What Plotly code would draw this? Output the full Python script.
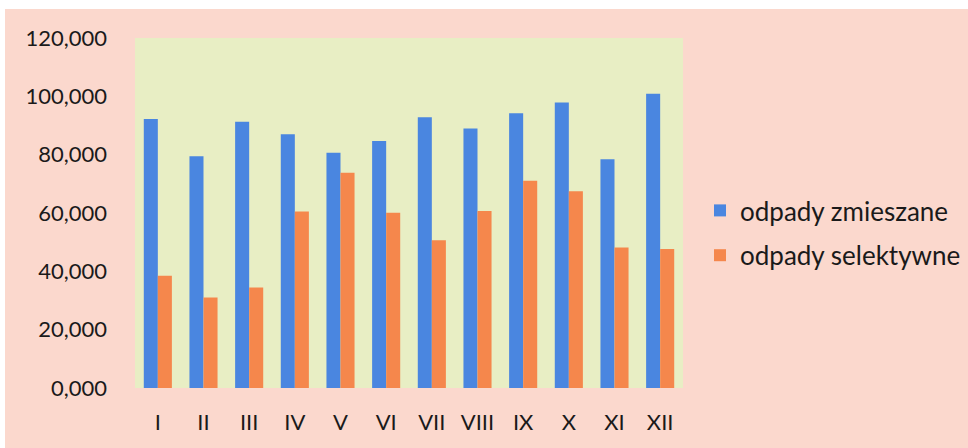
import plotly.graph_objects as go

months = ["I", "II", "III", "IV", "V", "VI", "VII", "VIII", "IX", "X", "XI", "XII"]
mixed = [92200, 79500, 91300, 87000, 80700, 84700, 92800, 89000, 94200, 97900, 78400, 100900]
selective = [38500, 31000, 34500, 60500, 73800, 60100, 50700, 60700, 71100, 67500, 48200, 47700]
series_names = ["odpady zmieszane", "odpady selektywne"]
y_ticks = [0, 20000, 40000, 60000, 80000, 100000, 120000]
y_tick_labels = ["0,000", "20,000", "40,000", "60,000", "80,000", "100,000", "120,000"]

FONT = "Lato"
TXT = "#1a1a1a"
W, H = 968, 448
ML, MR, MT, MB = 135, 285, 38, 60
PW, PH = W - ML - MR, H - MT - MB

fig = go.Figure()
fig.add_trace(go.Bar(x=months, y=mixed, name=series_names[0],
                     marker=dict(color="#4a86e0", line=dict(width=0)), legendgroup="a"))
fig.add_trace(go.Bar(x=months, y=selective, name=series_names[1],
                     marker=dict(color="#f5874c", line=dict(width=0)), legendgroup="b"))

# white scan border at top and left
fig.add_shape(type="rect", xref="paper", yref="paper", x0=-ML / PW, x1=1 + MR / PW,
              y0=1 + (MT - 9) / PH, y1=1 + MT / PH, fillcolor="white", line=dict(width=0), layer="below")
fig.add_shape(type="rect", xref="paper", yref="paper", x0=-ML / PW, x1=-(ML - 5) / PW,
              y0=-MB / PH, y1=1 + MT / PH, fillcolor="white", line=dict(width=0), layer="below")

fig.update_layout(
    width=W, height=H,
    margin=dict(l=ML, r=MR, t=MT, b=MB, autoexpand=False),
    paper_bgcolor="#fbd8cd",
    plot_bgcolor="#e8eec4",
    barmode="group", bargap=0.385, bargroupgap=0,
    font=dict(family=FONT, size=22, color=TXT),
    showlegend=True,
    legend=dict(xref="container", yref="container", x=700 / W, y=1 - 233 / H,
                xanchor="left", yanchor="middle",
                font=dict(family=FONT, size=26, color=TXT),
                bgcolor="rgba(0,0,0,0)", tracegroupgap=8, itemwidth=30),
    xaxis=dict(showgrid=False, zeroline=False, showline=False, ticks="",
               tickfont=dict(family=FONT, size=22, color=TXT), ticklabelstandoff=19),
    yaxis=dict(range=[0, 120000], tickvals=y_ticks, ticktext=y_tick_labels,
               showgrid=False, zeroline=False, showline=False, ticks="",
               tickfont=dict(family=FONT, size=22, color=TXT), ticklabelstandoff=27),
)

fig.write_html("out.html", config={"displayModeBar": False},
               post_script="document.body.style.margin='0';")
